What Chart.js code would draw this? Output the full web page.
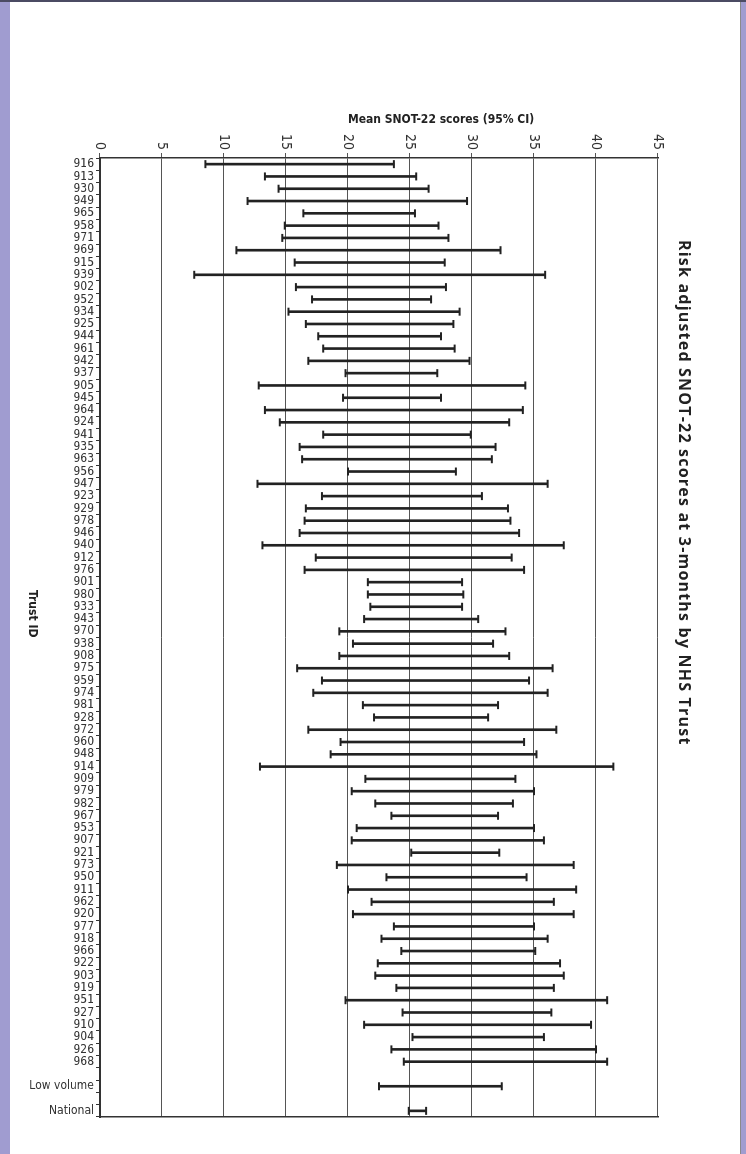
<!DOCTYPE html>
<html>
<head>
<meta charset="utf-8">
<script src="https://cdn.jsdelivr.net/npm/chart.js@4.4.1/dist/chart.umd.min.js"></script>
<style>
  html, body { margin: 0; padding: 0; }
  body { width: 746px; height: 1154px; overflow: hidden; position: relative; background: #fff;
         font-family: 'Liberation Sans Narrow', 'DejaVu Sans Condensed', 'Open Sans', sans-serif; color: #222; }
  .band-left { position: absolute; left: 0; top: 0; width: 10px; height: 1154px; background: #a09cd0; }
  .band-right { position: absolute; left: 740px; top: 0; width: 6px; height: 1154px; background: #a09cd0; border-left: 1px solid #8a8a8a; }
  .top-line { position: absolute; left: 0; top: 0; width: 746px; height: 2px; background: #4b4b63; }
  /* landscape chart, turned a quarter clockwise like the printed page */
  #land { position: absolute; left: 0; top: 0; width: 1154px; height: 746px;
          transform-origin: 0 0; transform: translateX(746px) rotate(90deg); }
  .vtext { position: absolute; writing-mode: vertical-rl; font-weight: bold; white-space: nowrap; }
  #title { left: 674px; top: 240px; font-size: 16px; font-family: 'Open Sans', sans-serif; letter-spacing: 1.2px; }
  #trustTitle { left: 26px; top: 590px; font-size: 12px; }
  #valueTitle { position: absolute; left: 348px; top: 112px; font-size: 12px; font-weight: bold; white-space: nowrap; }
</style>
</head>
<body>
<div class="band-left"></div>
<div class="band-right"></div>
<div class="top-line"></div>
<div id="land"><canvas id="ciChart" width="1154" height="746"></canvas></div>
<div id="valueTitle">Mean SNOT-22 scores (95% CI)</div>
<div id="title" class="vtext">Risk adjusted SNOT-22 scores at 3-months by NHS Trust</div>
<div id="trustTitle" class="vtext">Trust ID</div>
<script>
// rows top to bottom; blank strings are the spacer rows
var trustIds = ['916','913','930','949','965','958','971','969','915','939',
    '902','952','934','925','944','961','942','937','905','945',
    '964','924','941','935','963','956','947','923','929','978',
    '946','940','912','976','901','980','933','943','970','938',
    '908','975','959','974','981','928','972','960','948','914',
    '909','979','982','967','953','907','921','973','950','911',
    '962','920','977','918','966','922','903','919','951','927',
    '910','904','926','968','','Low volume','','National'];

var lowerCI = [8.5, 13.3, 14.4, 11.9, 16.4, 14.9, 14.7, 11.0, 15.7, 7.6,
    15.8, 17.1, 15.2, 16.6, 17.6, 18.0, 16.8, 19.8, 12.8, 19.6,
    13.3, 14.5, 18.0, 16.1, 16.3, 20.0, 12.7, 17.9, 16.6, 16.5,
    16.1, 13.1, 17.4, 16.5, 21.6, 21.6, 21.8, 21.3, 19.3, 20.4,
    19.3, 15.9, 17.9, 17.2, 21.2, 22.1, 16.8, 19.4, 18.6, 12.9,
    21.4, 20.3, 22.2, 23.5, 20.7, 20.3, 25.1, 19.1, 23.1, 20.0,
    21.9, 20.4, 23.7, 22.7, 24.3, 22.4, 22.2, 23.9, 19.8, 24.4,
    21.3, 25.2, 23.5, 24.5, null, 22.5, null, 24.9];

var upperCI = [23.7, 25.5, 26.5, 29.6, 25.4, 27.3, 28.1, 32.3, 27.8, 35.9,
    27.9, 26.7, 29.0, 28.5, 27.5, 28.6, 29.8, 27.2, 34.3, 27.5,
    34.1, 33.0, 29.9, 31.9, 31.6, 28.7, 36.1, 30.8, 32.9, 33.1,
    33.8, 37.4, 33.2, 34.2, 29.2, 29.3, 29.2, 30.5, 32.7, 31.7,
    33.0, 36.5, 34.6, 36.1, 32.1, 31.3, 36.8, 34.2, 35.2, 41.4,
    33.5, 35.0, 33.3, 32.1, 35.0, 35.8, 32.2, 38.2, 34.4, 38.4,
    36.6, 38.2, 35.0, 36.1, 35.1, 37.1, 37.4, 36.6, 40.9, 36.4,
    39.6, 35.8, 40.0, 40.9, null, 32.4, null, 26.3];

var scoreTicks = [0, 5, 10, 15, 20, 25, 30, 35, 40, 45];

const fontFam = "'Liberation Sans Narrow', 'DejaVu Sans Condensed', 'Open Sans', sans-serif";
const inkColor = '#222';

const ranges = lowerCI.map((lo, i) => lo == null ? null : [lo, upperCI[i]]);

new Chart(document.getElementById('ciChart'), {
    type: 'bar',
    data: {
        labels: trustIds,
        datasets: [
            { label: '95% CI', data: ranges, backgroundColor: inkColor, barThickness: 2, grouped: false },
            { type: 'line', label: 'lower', data: lowerCI, showLine: false, pointStyle: 'line',
              pointRadius: 4, pointBorderWidth: 2, pointBorderColor: inkColor, pointHoverRadius: 4 },
            { type: 'line', label: 'upper', data: upperCI, showLine: false, pointStyle: 'line',
              pointRadius: 4, pointBorderWidth: 2, pointBorderColor: inkColor, pointHoverRadius: 4 }
        ]
    },
    options: {
        responsive: false,
        animation: false,
        events: [],
        layout: { padding: { left: 118, right: 37, top: 88, bottom: 0 } },
        plugins: { legend: { display: false }, tooltip: { enabled: false } },
        scales: {
            x: {
                offset: true,
                grid: { offset: true, drawOnChartArea: false, tickLength: 4, color: '#333', lineWidth: 1 },
                border: { color: '#333', width: 2 },
                ticks: { autoSkip: false, minRotation: 90, maxRotation: 90, padding: 2, color: '#333',
                         font: { family: fontFam, size: 12 } },
                afterFit: (s) => { s.height = 100; }
            },
            y: {
                min: scoreTicks[0], max: scoreTicks[scoreTicks.length - 1],
                afterBuildTicks: (s) => { s.ticks = scoreTicks.map(v => ({ value: v })); },
                grid: { color: '#555', lineWidth: 1, tickLength: 5 },
                border: { color: '#333', width: 1.5 },
                ticks: { padding: 3, color: '#333', font: { family: fontFam, size: 14 } },
                afterFit: (s) => { s.width = 40; }
            },
            yEdge: {
                position: 'right', min: 0, max: 45,
                grid: { display: false },
                border: { display: true, color: '#333', width: 1.5 },
                ticks: { display: false },
                afterFit: (s) => { s.width = 0; }
            }
        }
    }
});
</script>
</body>
</html>
